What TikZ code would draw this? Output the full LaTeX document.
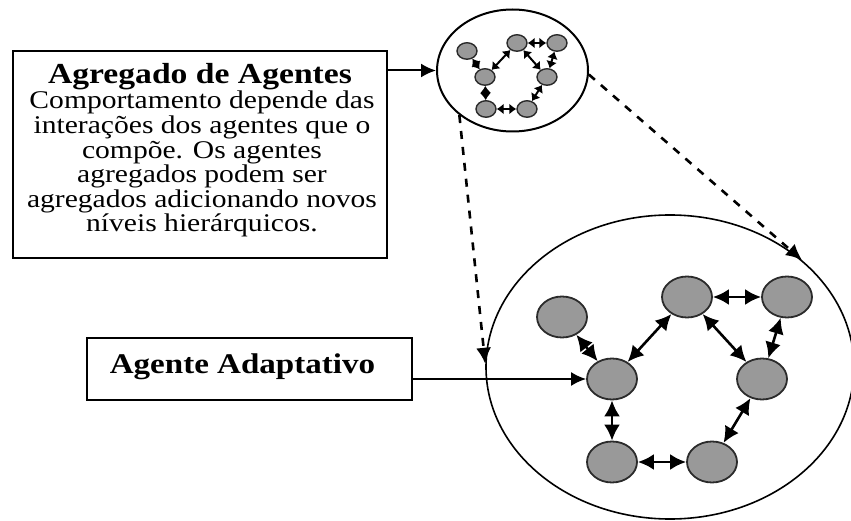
\documentclass[tikz,border=0pt]{standalone}
\usepackage{fontspec}
\setmainfont[FakeStretch=1.16]{Liberation Serif}
\usetikzlibrary{arrows.meta,shapes.geometric}
\definecolor{nodegray}{HTML}{999999}
\definecolor{nodeedge}{HTML}{2b2b2b}
\begin{document}
\begin{tikzpicture}[x=1pt,y=-1pt,
  agent/.style={ellipse,draw=nodeedge,fill=nodegray,line width=1.8pt,minimum width=50pt,minimum height=41pt,inner sep=0pt},
  sagent/.style={ellipse,draw=nodeedge,fill=nodegray,line width=1.4pt,minimum width=20pt,minimum height=16.5pt,inner sep=0pt},
  link/.style={{Latex[length=16pt,width=16pt]}-{Latex[length=16pt,width=16pt]},line width=2.6pt},
  slink/.style={{Latex[length=7pt,width=11pt]}-{Latex[length=7pt,width=11pt]},line width=2pt},
  labelbox/.style={draw,line width=2pt,inner sep=0pt},
  group/.style={ellipse,draw,inner sep=0pt},
  pointer/.style={-{Latex[length=15pt,width=14pt]},line width=2pt},
  zoomline/.style={-{Latex[length=16pt,width=15pt]},line width=2.6pt,dash pattern=on 8pt off 8pt}
]
\useasboundingbox (0,0) rectangle (851,521);

% groups
\node[group,line width=1.6pt,minimum width=368pt,minimum height=304pt] (big) at (670,367) {};
\node[group,line width=2pt,minimum width=151pt,minimum height=122pt] (small) at (512.5,70.5) {};

% boxes
\node[labelbox,minimum width=374pt,minimum height=207pt] (aggbox) at (200,154.5) {};
\node[labelbox,minimum width=325pt,minimum height=62pt] (adbox) at (249.5,369) {};

\node[font=\bfseries\fontsize{29}{30}\selectfont,anchor=base,inner sep=0pt] (t1) at (200,84) {Agregado de Agentes};
\node[font=\fontsize{25.5}{24.6}\selectfont,align=center,anchor=north,inner sep=0pt] (t2) at (202,91)
  {Comportamento depende das\\interações dos agentes que o\\compõe. Os agentes\\agregados podem ser\\agregados adicionando novos\\níveis hierárquicos.};
\node[font=\bfseries\fontsize{28.5}{30}\selectfont,anchor=base,inner sep=0pt] (t3) at (242.5,373) {Agente Adaptativo};

% big agents
\node[agent] (n1) at (562,317) {};
\node[agent] (n2) at (612,379) {};
\node[agent] (n3) at (687,297) {};
\node[agent] (n4) at (787,297) {};
\node[agent] (n5) at (762,379) {};
\node[agent] (n6) at (612,462) {};
\node[agent] (n7) at (712,462) {};

\draw[link] (n1) -- (n2);
\draw[link] (n2) -- (n3);
\draw[link] (n3) -- (n4);
\draw[link] (n3) -- (n5);
\draw[link] (n4) -- (n5);
\draw[link] (n2) -- (n6);
\draw[link] (n6) -- (n7);
\draw[link] (n7) -- (n5);

% small agents
\node[sagent] (s1) at (467,51) {};
\node[sagent] (s2) at (485,77) {};
\node[sagent] (s3) at (517,43) {};
\node[sagent] (s4) at (557,43) {};
\node[sagent] (s5) at (547,77) {};
\node[sagent] (s6) at (486,109) {};
\node[sagent] (s7) at (527,109) {};

\draw[slink] (s1) -- (s2);
\draw[slink] (s2) -- (s3);
\draw[slink] (s3) -- (s4);
\draw[slink] (s3) -- (s5);
\draw[slink] (s4) -- (s5);
\draw[slink] (s2) -- (s6);
\draw[slink] (s6) -- (s7);
\draw[slink] (s7) -- (s5);

% pointers
\draw[pointer] (aggbox.east |- small.west) -- (small.west);
\draw[pointer] (adbox.east |- n2.west) -- (n2.west);

% zoom lines
\draw[zoomline] (small.220) -- (big.179);
\draw[zoomline] (small.-3) -- (big.39.6);
\end{tikzpicture}
\end{document}
